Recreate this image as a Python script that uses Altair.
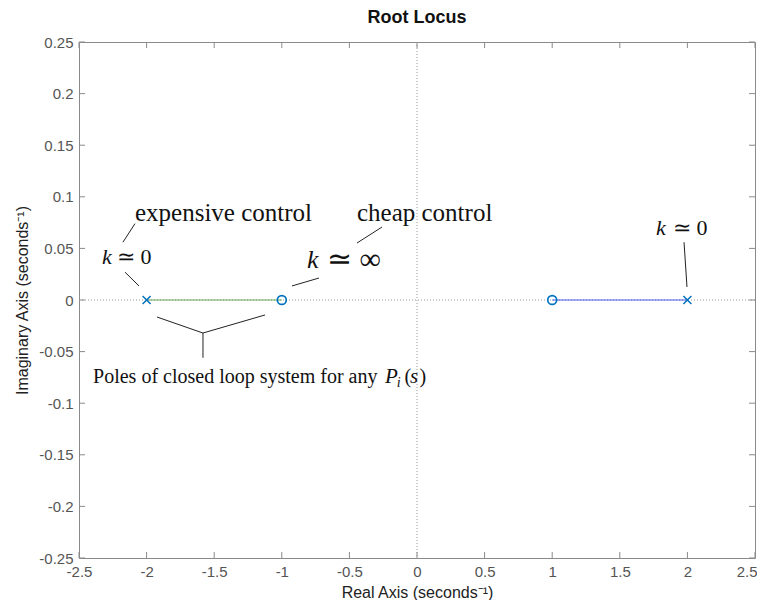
import altair as alt
import pandas as pd

# Root locus data
branch1_x = [-2.0, -1.0]
branch1_y = [0.0, 0.0]
branch2_x = [1.0, 2.0]
branch2_y = [0.0, 0.0]
poles_x = [-2.0, 2.0]
poles_y = [0.0, 0.0]
zeros_x = [-1.0, 1.0]
zeros_y = [0.0, 0.0]

x_ticks = [-2.5, -2, -1.5, -1, -0.5, 0, 0.5, 1, 1.5, 2, 2.5]
y_ticks = [-0.25, -0.2, -0.15, -0.1, -0.05, 0, 0.05, 0.1, 0.15, 0.2, 0.25]

# annotation pointer segments (data units)
seg_id = [1, 1, 2, 2, 3, 3, 4, 4, 5, 5, 6, 6, 7, 7, 8, 8]
seg_x = [-2.175, -2.086, -2.16, -2.056, -0.444, -0.259, -0.925, -0.725,
         -1.923, -1.583, -1.124, -1.583, -1.583, -1.583, 1.975, 1.997]
seg_y = [0.056, 0.074, 0.027, 0.0136, 0.0552, 0.0707, 0.0136, 0.0213,
         -0.0165, -0.032, -0.0145, -0.032, -0.032, -0.056, 0.056, 0.0126]

# annotation texts (data units, left aligned)
txt = ["expensive control", "cheap control", "Poles of closed loop system for any",
       "k", "≃ 0", "k", "≃ ∞", "k", "≃ 0", "P", "i", "(", "s", ")"]
txt_x = [-2.086, -0.444, -2.396, -2.33, -2.219, -0.814, -0.666, 1.768, 1.893,
         -0.237, -0.15, -0.092, -0.052, 0.018]
txt_y = [0.0843, 0.0843, -0.0746, 0.0417, 0.0417, 0.0388, 0.0388, 0.0698, 0.0698,
         -0.0746, -0.0800, -0.0746, -0.0746, -0.0746]
txt_size = [25, 25, 20, 22, 22, 26, 30, 22, 22, 21, 14, 20, 21, 20]
txt_style = ["normal", "normal", "normal", "italic", "normal", "italic", "normal",
             "italic", "normal", "italic", "italic", "normal", "italic", "normal"]

W, H = 676, 516
xs = alt.Scale(domain=[-2.5, 2.5], nice=False, zero=False)
ys = alt.Scale(domain=[-0.25, 0.25], nice=False, zero=False)

xaxis = alt.Axis(values=x_ticks, title="Real Axis (seconds⁻¹)", domain=False, ticks=False,
                 grid=False, labelPadding=6, labelFontSize=15, labelColor="#555555",
                 labelFont="Liberation Sans", titleFont="Liberation Sans", titleFontSize=16,
                 titleFontWeight="normal", titleColor="#222222", titlePadding=5,
                 labelFlush=False, labelOverlap=False, labelExpr="'' + datum.value",
                 labelAlign={"condition": {"test": "datum.value == 2.5", "value": "right"},
                             "value": "center"},
                 labelOffset={"condition": {"test": "datum.value == 2.5", "value": 2},
                              "value": 0})
yaxis = alt.Axis(values=y_ticks, title="Imaginary Axis (seconds⁻¹)", domain=False, ticks=False,
                 grid=False, labelPadding=6, labelFontSize=15, labelColor="#555555",
                 labelFont="Liberation Sans", titleFont="Liberation Sans", titleFontSize=16,
                 titleFontWeight="normal", titleColor="#222222", titlePadding=8,
                 labelFlush=False, labelOverlap=False, labelExpr="'' + datum.value")

b1 = pd.DataFrame({"x": branch1_x, "y": branch1_y})
b2 = pd.DataFrame({"x": branch2_x, "y": branch2_y})
pdf = pd.DataFrame({"x": poles_x, "y": poles_y})
zdf = pd.DataFrame({"x": zeros_x, "y": zeros_y})

base_axes = alt.Chart(pd.DataFrame({"x": [0.0], "y": [0.0]})).mark_point(opacity=0).encode(
    x=alt.X("x:Q", scale=xs, axis=xaxis), y=alt.Y("y:Q", scale=ys, axis=yaxis))

vline = alt.Chart(pd.DataFrame({"x": [0.0]})).mark_rule(
    color="#999999", strokeDash=[1, 2], strokeWidth=1).encode(x=alt.X("x:Q", scale=xs))
hline = alt.Chart(pd.DataFrame({"y": [0.0]})).mark_rule(
    color="#999999", strokeDash=[1, 2], strokeWidth=1).encode(y=alt.Y("y:Q", scale=ys))

l1 = alt.Chart(b1).mark_line(color="#6aaa5a", strokeWidth=1.2).encode(
    x=alt.X("x:Q", scale=xs), y=alt.Y("y:Q", scale=ys))
l2 = alt.Chart(b2).mark_line(color="#4a5ae8", strokeWidth=1.2).encode(
    x=alt.X("x:Q", scale=xs), y=alt.Y("y:Q", scale=ys))
pmx = alt.Chart(pdf).mark_point(shape="M-1,-1L1,1M-1,1L1,-1", size=64, strokeWidth=1.5,
                                color="#0072BD", opacity=1).encode(
    x=alt.X("x:Q", scale=xs), y=alt.Y("y:Q", scale=ys))
zm = alt.Chart(zdf).mark_point(shape="circle", size=80, strokeWidth=1.7, filled=False,
                               color="#0072BD", opacity=1).encode(
    x=alt.X("x:Q", scale=xs), y=alt.Y("y:Q", scale=ys))

# inward ticks
xt = pd.DataFrame({"v": x_ticks})
yt = pd.DataFrame({"v": y_ticks})
tick_col = "#8a8a8a"
tb = alt.Chart(xt).mark_rule(color=tick_col).encode(
    x=alt.X("v:Q", scale=xs), y=alt.value(H), y2=alt.value(H - 6))
tt = alt.Chart(xt).mark_rule(color=tick_col).encode(
    x=alt.X("v:Q", scale=xs), y=alt.value(0), y2=alt.value(6))
tl = alt.Chart(yt).mark_rule(color=tick_col).encode(
    y=alt.Y("v:Q", scale=ys), x=alt.value(0), x2=alt.value(6))
tr = alt.Chart(yt).mark_rule(color=tick_col).encode(
    y=alt.Y("v:Q", scale=ys), x=alt.value(W), x2=alt.value(W - 6))

sdf = pd.DataFrame({"id": seg_id, "x": seg_x, "y": seg_y, "o": list(range(len(seg_x)))})
segs = alt.Chart(sdf).mark_line(color="#222222", strokeWidth=1).encode(
    x=alt.X("x:Q", scale=xs), y=alt.Y("y:Q", scale=ys), detail="id:N", order="o:Q")

tdf = pd.DataFrame({"t": txt, "x": txt_x, "y": txt_y, "s": txt_size, "st": txt_style})
texts = []
for (sz, st), g in tdf.groupby(["s", "st"]):
    texts.append(alt.Chart(g).mark_text(align="left", baseline="middle", font="Liberation Serif",
                                        fontSize=int(sz), fontStyle=st, color="#111111").encode(
        x=alt.X("x:Q", scale=xs), y=alt.Y("y:Q", scale=ys), text="t:N"))

chart = alt.layer(base_axes, vline, hline, l1, l2, segs, pmx, zm, tb, tt, tl, tr, *texts).properties(
    width=W, height=H,
    title=alt.TitleParams("Root Locus", font="Liberation Sans", fontSize=18, fontWeight="bold",
                          color="#111111", anchor="middle", offset=8),
    autosize=alt.AutoSizeParams(type="none"),
    padding={"left": 71, "top": 34, "right": 2, "bottom": 42},
).configure_view(stroke="#8a8a8a", strokeWidth=1)

chart.save("out.html", embed_options={"renderer": "svg", "actions": False})
